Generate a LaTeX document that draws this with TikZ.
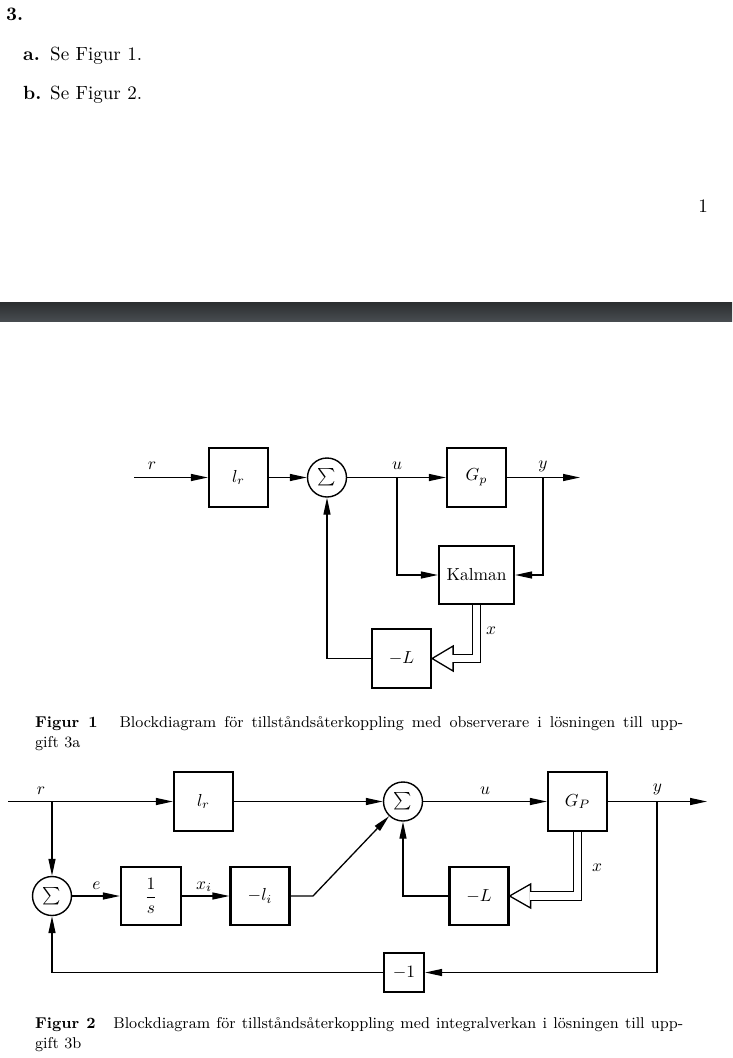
\documentclass[tikz,border=0pt]{standalone}
\usepackage{fontspec}
\usetikzlibrary{arrows.meta}

\definecolor{barTop}{HTML}{2B2D2F}
\definecolor{barMid}{HTML}{52575B}
\definecolor{barBot}{HTML}{474C50}

% all lettering is typeset at document size and enlarged as a whole
\newcommand{\zoomtxt}[1]{\scalebox{1.74}{#1}}

\tikzset{
  bodytext/.style={font=\fontsize{10.95}{13.6}\selectfont, inner sep=0pt},
  captext/.style={font=\fontsize{9}{11}\selectfont, inner sep=0pt},
  lbl/.style={font=\fontsize{10}{12}\selectfont, inner sep=0pt, anchor=base},
  blk/.style={draw, line width=2.2pt, minimum width=59pt, minimum height=59pt,
              inner sep=0pt, font=\fontsize{10}{12}\selectfont},
  sumnode/.style={draw, circle, line width=1.4pt, minimum size=39pt, inner sep=0pt,
              font=\fontsize{10}{12}\selectfont},
  wire/.style={line width=1.3pt},
  conn/.style={wire, -{Triangle[length=17pt,width=7pt]}},
  busout/.style={line width=9.8pt, miter limit=10},
  busin/.style={white, line width=7.2pt, miter limit=10},
}

\begin{document}
\begin{tikzpicture}[x=1pt, y=-1pt]
\useasboundingbox (0,0) rectangle (732,1058);
\fill[white] (0,0) rectangle (732,1058);

% ---------- text of the solution page ----------
\node[bodytext, anchor=base west] (h3) at (6,20) {\zoomtxt{\bfseries 3.}};
\node[bodytext, anchor=base west] (ia) at (23,60) {\zoomtxt{\bfseries a.}};
\node[bodytext, anchor=base west] (ta) at (50,60) {\zoomtxt{Se Figur 1.}};
\node[bodytext, anchor=base west] (ib) at (23,99) {\zoomtxt{\bfseries b.}};
\node[bodytext, anchor=base west] (tb) at (50,99) {\zoomtxt{Se Figur 2.}};
\node[bodytext, anchor=base east] (pg) at (708,212) {\zoomtxt{1}};

% page separator bar
\shade[top color=barTop, middle color=barMid, bottom color=barBot] (0,302) rectangle (732,321);

% ---------- Figur 1: state feedback with observer ----------
\coordinate (in1) at (134,477.5);
\coordinate (out1) at (580,477.5);
\coordinate (bu1) at (397,477.5);
\coordinate (by1) at (543,477.5);

\node[blk] (lr1) at (238.5,477.5) {\zoomtxt{$l_r$}};
\node[sumnode] (s1) at (327,477.5) {\zoomtxt{$\sum$}};
\node[blk] (gp1) at (476.5,477.5) {\zoomtxt{$G_p$}};
\node[blk, minimum width=75pt, minimum height=58pt] (kal) at (476.5,575) {\zoomtxt{Kalman}};
\node[blk] (mL1) at (401.5,658.5) {\zoomtxt{$-L$}};

\node[lbl] (r1) at (152,469.5) {\zoomtxt{$r$}};
\node[lbl] (u1) at (397,469.5) {\zoomtxt{$u$}};
\node[lbl] (y1) at (543,468) {\zoomtxt{$y$}};
\node[lbl] (x1) at (491,634) {\zoomtxt{$x$}};

\draw[conn] (in1) -- (lr1);
\draw[conn] (lr1) -- (s1);
\draw[conn] (s1) -- (gp1);
\draw[conn] (gp1) -- (out1);
\draw[conn] (bu1) |- (kal);
\draw[conn] (by1) |- (kal);
\draw[conn] (mL1) -| (s1);

% state vector bus Kalman -> -L
\draw[busout] (kal.south) |- ([xshift=21pt]mL1.east);
\draw[wire, fill=white] (mL1.east) -- ++(21,-12.5) -- ++(0,25) -- cycle;
\draw[busin] (kal.south) |- ([xshift=20pt]mL1.east);

% caption 1
\node[captext, anchor=base west] (c1a) at (35,727)
  {\zoomtxt{\makebox[372.4pt][s]{\textbf{Figur 1}\hskip 1em plus .4em Blockdiagram för tillståndsåterkoppling med observerare i lösningen till upp-}}};
\node[captext, anchor=base west] (c1b) at (35,747) {\zoomtxt{gift 3a}};

% ---------- Figur 2: state feedback with integral action ----------
\coordinate (in2) at (8,801.5);
\coordinate (br2) at (52,801.5);
\coordinate (out2) at (707,801.5);
\coordinate (by2) at (657,801.5);
\coordinate (kink) at (313,896);

\node[blk] (lr2) at (203.5,801.5) {\zoomtxt{$l_r$}};
\node[sumnode] (s2) at (403,801.5) {\zoomtxt{$\sum$}};
\node[blk] (gp2) at (577.5,801.5) {\zoomtxt{$G_P$}};
\node[sumnode] (s3) at (52,896) {\zoomtxt{$\sum$}};
\node[blk, minimum width=60pt, minimum height=58pt] (integ) at (151,896) {\zoomtxt{$\displaystyle\frac{1}{s}$}};
\node[blk, minimum height=58pt] (li) at (260,896) {\zoomtxt{$-l_i$}};
\node[blk, minimum height=58pt] (mL2) at (479,896) {\zoomtxt{$-L$}};
\node[blk, minimum width=40pt, minimum height=39pt] (neg) at (404,972.5) {\zoomtxt{$-1$}};

\node[lbl] (r2) at (41,794) {\zoomtxt{$r$}};
\node[lbl] (u2) at (485,794) {\zoomtxt{$u$}};
\node[lbl] (y2) at (657.5,791) {\zoomtxt{$y$}};
\node[lbl] (e2) at (96.5,889) {\zoomtxt{$e$}};
\node[lbl] (xi2) at (204,889) {\zoomtxt{$x_i$}};
\node[lbl] (x2) at (597,871) {\zoomtxt{$x$}};

\draw[conn] (in2) -- (lr2);
\draw[conn] (lr2) -- (s2);
\draw[conn] (s2) -- (gp2);
\draw[conn] (gp2) -- (out2);
\draw[conn] (br2) -- (s3);
\draw[conn] (s3) -- (integ);
\draw[conn] (integ) -- (li);
\draw[conn] (li) -- (kink) -- (s2);
\draw[conn] (mL2) -| (s2);
\draw[conn] (by2) |- (neg);
\draw[conn] (neg) -| (s3);

% state vector bus G_P -> -L
\draw[busout] (gp2.south) |- ([xshift=21pt]mL2.east);
\draw[wire, fill=white] (mL2.east) -- ++(21,-12) -- ++(0,24) -- cycle;
\draw[busin] (gp2.south) |- ([xshift=20pt]mL2.east);

% caption 2
\node[captext, anchor=base west] (c2a) at (35,1028)
  {\zoomtxt{\makebox[372.4pt][s]{\textbf{Figur 2}\hskip 1em plus .4em Blockdiagram för tillståndsåterkoppling med integralverkan i lösningen till upp-}}};
\node[captext, anchor=base west] (c2b) at (35,1048) {\zoomtxt{gift 3b}};
\end{tikzpicture}
\end{document}
